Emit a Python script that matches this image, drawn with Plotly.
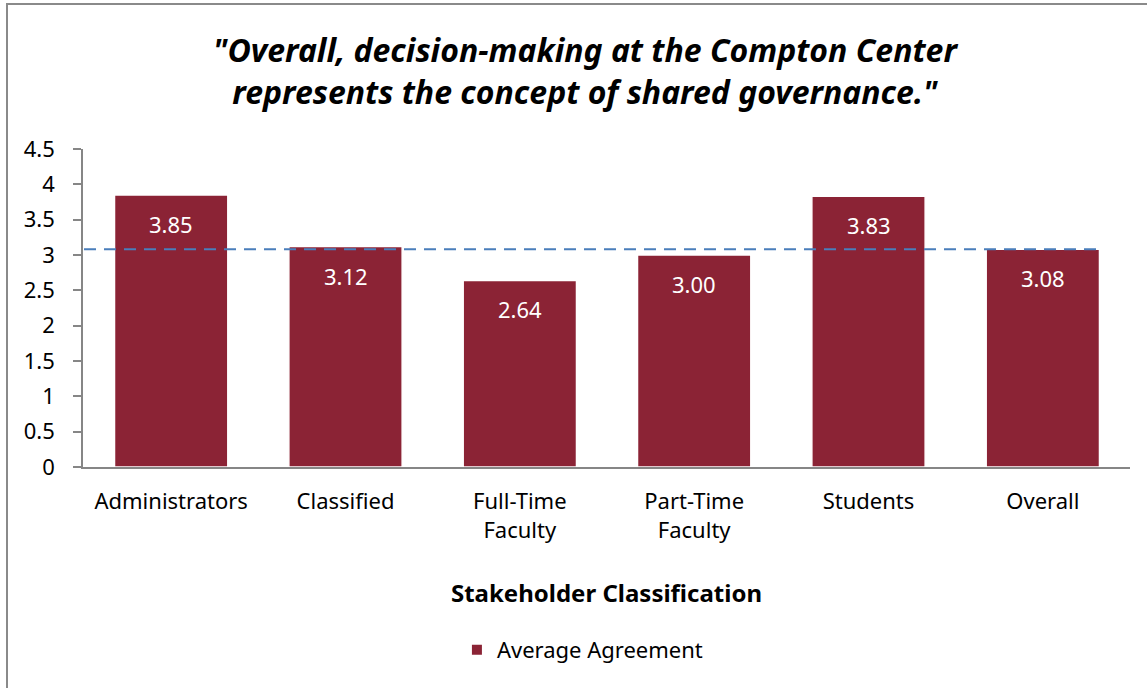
import plotly.graph_objects as go

categories = ["Administrators", "Classified", "Full-Time<br>Faculty", "Part-Time<br>Faculty", "Students", "Overall"]
values = [3.85, 3.12, 2.64, 3.00, 3.83, 3.08]
labels = ["3.85", "3.12", "2.64", "3.00", "3.83", "3.08"]
series_name = "Average Agreement"
reference_value = 3.08
y_ticks = [0, 0.5, 1, 1.5, 2, 2.5, 3, 3.5, 4, 4.5]
y_tick_text = ["0", "0.5", "1", "1.5", "2", "2.5", "3", "3.5", "4", "4.5"]

W, H = 1147, 688
ML, MR, MT, MB = 83, 17, 149, 221
PW, PH = W - ML - MR, H - MT - MB

bar_color = "#8B2335"
font_family = "Noto Sans, Open Sans, DejaVu Sans, sans-serif"

fig = go.Figure()
fig.add_trace(go.Bar(
    x=categories, y=values, name=series_name,
    marker=dict(color=bar_color, line=dict(color="#ffffff", width=1.5)),
    showlegend=True,
))

for c, v, t in zip(categories, values, labels):
    fig.add_annotation(x=c, y=v, text=t, showarrow=False, yshift=-29,
                       font=dict(color="white", size=22, family=font_family))

# dashed reference line at overall average
fig.add_shape(type="line", xref="x", yref="y", x0=-0.5, x1=5.325,
              y0=reference_value, y1=reference_value,
              line=dict(color="#4A7EBB", width=2, dash="12px,8px"), layer="above")

# outer chart border
fig.add_shape(type="rect", xref="paper", yref="paper",
              x0=(7 - ML) / PW, x1=(W + 10 - ML) / PW,
              y0=-(H + 10 - MT - PH) / PH, y1=(H - 4 - MB) / PH,
              line=dict(color="#8a8a8a", width=2), fillcolor="rgba(0,0,0,0)")

fig.update_layout(
    width=W, height=H,
    margin=dict(l=ML, r=MR, t=MT, b=MB, autoexpand=False),
    plot_bgcolor="white", paper_bgcolor="white",
    bargap=0.35,
    font=dict(family=font_family, size=22, color="black"),
    title=dict(
        text="<b><i>\"Overall, decision-making at the Compton Center<br>represents the concept of shared governance.\"</i></b>",
        x=0.51, xanchor="center", y=1 - 62 / H, yanchor="middle",
        font=dict(size=32, family=font_family, color="black"),
    ),
    xaxis=dict(
        showline=True, linecolor="#868686", linewidth=1.5,
        ticks="", showgrid=False, ticklabelstandoff=14,
        tickfont=dict(size=22),
        title=dict(text="<b>Stakeholder Classification</b>", font=dict(size=24), standoff=42),
    ),
    yaxis=dict(
        range=[0, 4.5], tickvals=y_ticks, ticktext=y_tick_text,
        showline=True, linecolor="#868686", linewidth=1.5,
        ticks="outside", ticklen=8, tickcolor="#868686", tickwidth=1.5,
        ticklabelstandoff=14,
        showgrid=False, zeroline=False, tickfont=dict(size=22),
    ),
    legend=dict(orientation="h", x=0.477, xanchor="center", y=-(650 - 467) / PH, yanchor="middle",
                font=dict(size=22), itemsizing="constant"),
)

fig.write_html("out.html", config={"displayModeBar": False},
               post_script="document.body.style.margin='0';")
